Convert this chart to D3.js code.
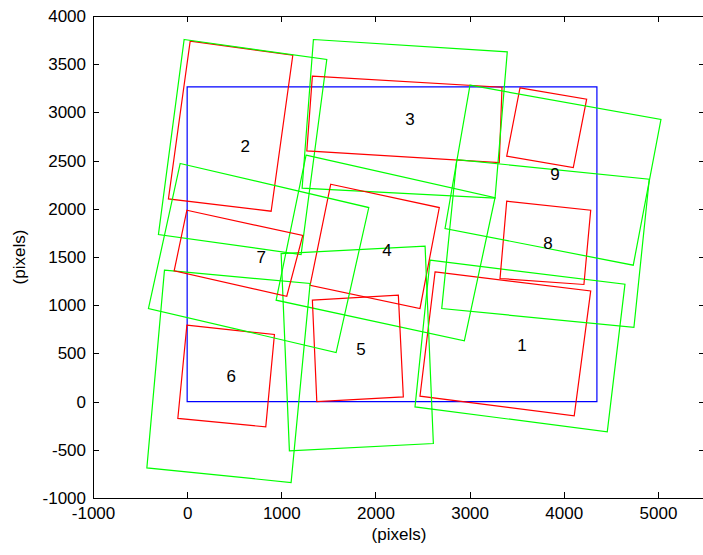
<!DOCTYPE html>
<html>
<head>
<meta charset="utf-8">
<script src="https://cdn.jsdelivr.net/npm/d3@7"></script>
<style>
  body { margin: 0; background: #fff; }
  text { font-family: "Liberation Sans", Arial, sans-serif; }
</style>
</head>
<body>
<div id="chart"></div>
<script>
// Chart data
//= ================================
// image frame (blue)
var frameX = [0, 4352, 4352, 0];
var frameY = [0, 0, 3264, 3264];

// red footprints, 4 corners each
var redX = [
  [2633, 4286, 4111, 2473],
  [32, 1122, 892, -199],
  [1330, 3344, 3315, 1271],
  [1525, 2678, 2473, 1306],
  [1330, 2243, 2296, 1377],
  [-3, 927, 835, -99],
  [-3, 1228, 1058, -138],
  [3394, 4286, 4214, 3323],
  [3535, 4243, 4101, 3394]
];
var redY = [
  [1345, 1148, -148, 56],
  [3739, 3593, 1975, 2103],
  [3376, 3261, 2480, 2601],
  [2255, 2013, 966, 1207],
  [1052, 1104, 49, 1],
  [793, 696, -262, -175],
  [1985, 1723, 1093, 1356],
  [2079, 1985, 1215, 1277],
  [3254, 3137, 2428, 2546]
];

// green footprints, 4 corners each
var greenX = [
  [2580, 4650, 4462, 2420],
  [-32, 1483, 1210, -305],
  [1341, 3400, 3270, 1221],
  [1263, 3270, 2944, 945],
  [998, 2527, 2615, 1086],
  [-241, 1306, 1104, -428],
  [-74, 1929, 1582, -411],
  [2863, 4908, 4745, 2704],
  [3004, 5032, 4738, 2739]
];
var greenY = [
  [1467, 1218, -314, -55],
  [3756, 3549, 1526, 1733],
  [3756, 3628, 2110, 2214],
  [2556, 2115, 630, 1052],
  [1536, 1612, -435, -511],
  [1363, 1225, -839, -688],
  [2470, 2013, 509, 966],
  [2511, 2307, 769, 966],
  [3282, 2926, 1415, 1796]
];

// region numbers
var labelText = ["1", "2", "3", "4", "5", "6", "7", "8", "9"];
var labelX = [3556, 616, 2367, 2123, 1847, 467, 786, 3832, 3907];
var labelY = [585, 2649, 2929, 1571, 544, 263, 1498, 1643, 2360];

var xTicks = [-1000, 0, 1000, 2000, 3000, 4000, 5000];
var yTicks = [-1000, -500, 0, 500, 1000, 1500, 2000, 2500, 3000, 3500, 4000];

// Set up chart
//= ================================
var svgWidth = 703;
var svgHeight = 555;

var margin = { top: 16, right: -2, bottom: 57, left: 93 };
var width = svgWidth - margin.left - margin.right;
var height = svgHeight - margin.top - margin.bottom;

var svg = d3.select("#chart")
  .append("svg")
  .attr("width", svgWidth)
  .attr("height", svgHeight);

var chartGroup = svg.append("g")
  .attr("transform", `translate(${margin.left}, ${margin.top})`);

var xScale = d3.scaleLinear().domain([-1000, 5500]).range([0, width]);
var yScale = d3.scaleLinear().domain([-1000, 4000]).range([height, 0]);

var line = d3.line()
  .x(d => xScale(d[0]))
  .y(d => yScale(d[1]))
  .curve(d3.curveLinearClosed);

function corners(xs, ys) {
  return xs.map((x, i) => [x, ys[i]]);
}

chartGroup.append("clipPath")
  .attr("id", "plotClip")
  .append("rect")
  .attr("width", width)
  .attr("height", height);

var plot = chartGroup.append("g").attr("clip-path", "url(#plotClip)");

// blue frame
plot.append("path")
  .attr("d", line(corners(frameX, frameY)))
  .attr("fill", "none")
  .attr("stroke", "#0000ff")
  .attr("stroke-width", 1.2);

// footprints
for (var i = 0; i < redX.length; i++) {
  plot.append("path")
    .attr("d", line(corners(redX[i], redY[i])))
    .attr("fill", "none")
    .attr("stroke", "#ff0000")
    .attr("stroke-width", 1.2);
  plot.append("path")
    .attr("d", line(corners(greenX[i], greenY[i])))
    .attr("fill", "none")
    .attr("stroke", "#00ff00")
    .attr("stroke-width", 1.2);
}

// region numbers
plot.selectAll(".num")
  .data(labelText)
  .enter()
  .append("text")
  .attr("class", "num")
  .attr("x", (d, i) => xScale(labelX[i]))
  .attr("y", (d, i) => yScale(labelY[i]))
  .attr("dy", "0.36em")
  .attr("text-anchor", "middle")
  .style("font-size", "17px")
  .style("fill", "#000")
  .text(d => d);

// axes, ticks on all four sides pointing inward
var plain = d => String(d);
var bottomAxis = d3.axisBottom(xScale).tickValues(xTicks).tickSize(-6).tickSizeOuter(0).tickPadding(9).tickFormat(plain);
var topAxis = d3.axisTop(xScale).tickValues(xTicks).tickSize(-6).tickSizeOuter(0).tickFormat("");
var leftAxis = d3.axisLeft(yScale).tickValues(yTicks).tickSize(-6).tickSizeOuter(0).tickPadding(7).tickFormat(plain);
var rightAxis = d3.axisRight(yScale).tickValues(yTicks).tickSize(-6).tickSizeOuter(0).tickFormat("");

var axes = [
  chartGroup.append("g").attr("transform", `translate(0, ${height})`).call(bottomAxis),
  chartGroup.append("g").call(topAxis),
  chartGroup.append("g").call(leftAxis),
  chartGroup.append("g").attr("transform", `translate(${width}, 0)`).call(rightAxis)
];

axes.forEach(function(g) {
  g.selectAll("path, line")
    .attr("stroke", "#000")
    .attr("shape-rendering", "crispEdges");
  g.selectAll("text")
    .style("font-size", "17px")
    .style("font-family", "'Liberation Sans', Arial, sans-serif")
    .attr("fill", "#000");
});

// axis labels
chartGroup.append("text")
  .attr("transform", "rotate(-90)")
  .attr("x", 0 - 241)
  .attr("y", 0 - margin.left + 25)
  .attr("text-anchor", "middle")
  .style("font-size", "17px")
  .text("(pixels)");

chartGroup.append("text")
  .attr("x", width / 2)
  .attr("y", height + 42)
  .attr("text-anchor", "middle")
  .style("font-size", "17px")
  .text("(pixels)");
</script>
</body>
</html>
